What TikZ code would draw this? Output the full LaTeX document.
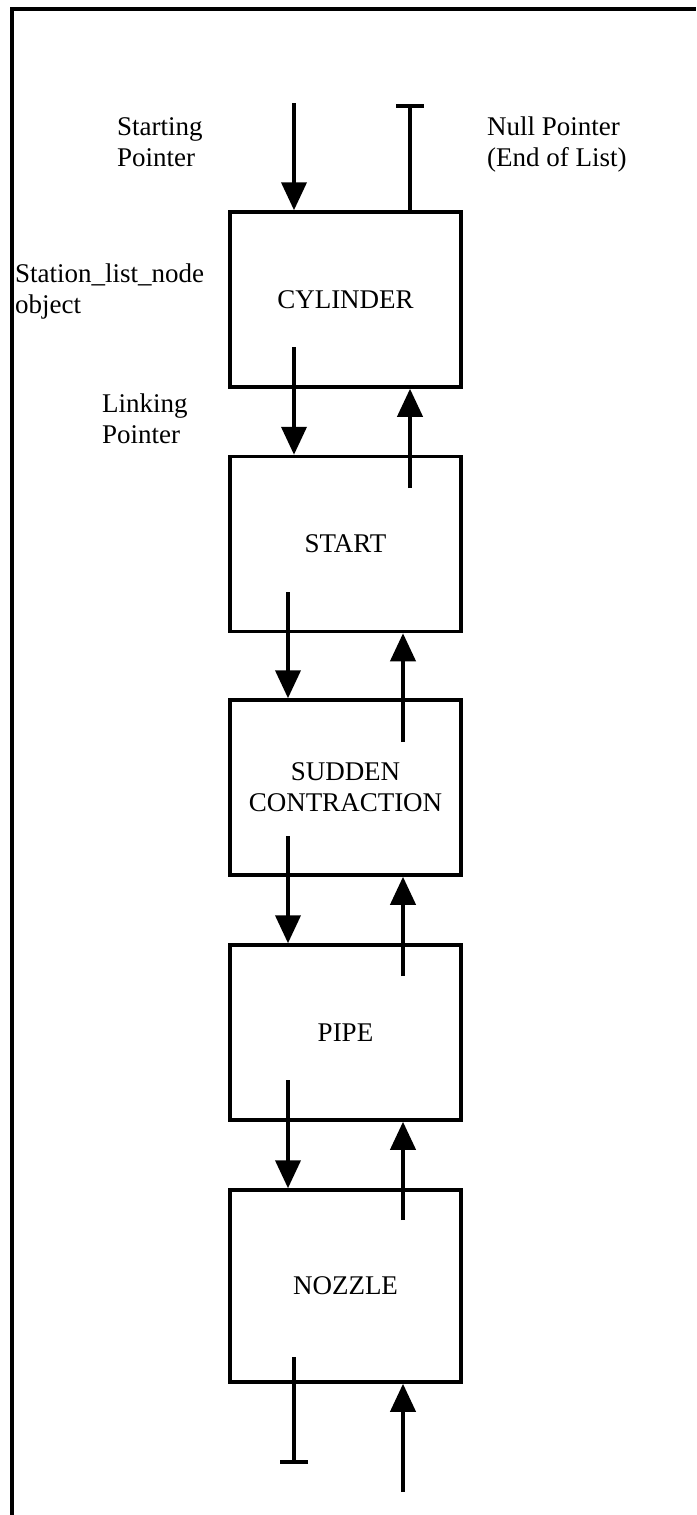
\documentclass[tikz,border=0pt]{standalone}
\usepackage{fontspec}
\setmainfont{Liberation Serif}
\usetikzlibrary{arrows.meta, positioning}

\begin{document}
\begin{tikzpicture}[
    x=1pt, y=-1pt,
    font=\fontsize{27}{31}\selectfont,
    station/.style={draw, line width=3.5pt, minimum width=231pt,
                    minimum height=175pt, align=center, inner sep=0pt},
    note/.style={anchor=base west, align=left, inner sep=0pt},
    ptr/.style={line width=4pt, -{Triangle[width=25pt, length=28pt]}},
    nullptr/.style={line width=4pt, -{Bar[width=28pt]}}
]
\useasboundingbox (0,0) rectangle (696,1515);

% ── Frame (top and left edges only) ─────────────────────────
\draw[line width=4pt] (12,1515) -- (12,8.5) -- (696,8.5);

% ── Station list nodes ─────────────────────────────────────
\node[station] (b1) at (345.5, 299.5) {CYLINDER};
\node[station] (b2) at (345.5, 544)   {START};
\node[station] (b3) at (345.5, 787.5) {SUDDEN\\CONTRACTION};
\node[station] (b4) at (345.5,1032.5) {PIPE};
\node[station, minimum height=192pt] (b5) at (345.5,1286) {NOZZLE};

% ── Labels (placed at the baseline of their last line) ─────
\node[note] (startlbl) at (117,166) {Starting\\Pointer};
\node[note] (nulllbl)  at (487,166) {Null Pointer\\(End of List)};
\node[note] (objlbl)   at (15,313)  {Station\_list\_node\\object};
\node[note] (linklbl)  at (102,443) {Linking\\Pointer};

% ── Head and tail of the list ──────────────────────────────
\coordinate (sp) at (294,103);
\draw[ptr] (sp) -- (sp |- b1.north);                  % starting pointer
\coordinate (np) at (410,104);
\draw[nullptr] (np |- b1.north) -- (np);              % null pointer (top)

% ── Links between CYLINDER and START ───────────────────────
\coordinate (d1) at (294,347);
\draw[ptr] (d1) -- (d1 |- b2.north);
\coordinate (u2) at (410,488);
\draw[ptr] (u2) -- (u2 |- b1.south);

% ── Links further down ─────────────────────────────────────
\foreach \a/\b/\ys/\ye in {b2/b3/592/742, b3/b4/836/976, b4/b5/1080/1220}{
    \coordinate (d\a) at (288,\ys);
    \draw[ptr] (d\a) -- (d\a |- \b.north);
    \coordinate (u\b) at (403,\ye);
    \draw[ptr] (u\b) -- (u\b |- \a.south);
}

% ── Bottom of NOZZLE ───────────────────────────────────────
\coordinate (nz) at (294,1357);
\coordinate (nzend) at (294,1464);
\draw[nullptr] (nz) -- (nzend);                       % null pointer (bottom)
\coordinate (in) at (403,1492);
\draw[ptr] (in) -- (in |- b5.south);

\end{tikzpicture}
\end{document}
